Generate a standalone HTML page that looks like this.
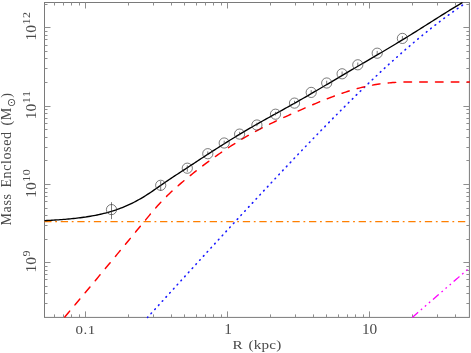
<!DOCTYPE html>
<html><head><meta charset="utf-8"><title>Mass Enclosed vs R</title>
<style>
html,body{margin:0;padding:0;background:#fff;}
body{width:471px;height:353px;overflow:hidden;font-family:"Liberation Serif",serif;}
svg{display:block;font-family:"Liberation Serif",serif;}
</style></head><body>
<svg width="471" height="353" viewBox="0 0 471 353">
<rect width="471" height="353" fill="#fff"/>
<!-- frame + ticks -->
<g fill="none" stroke="#7a7a7a" stroke-width="1">
<rect x="44.5" y="2.5" width="424.90" height="314.90"/>
<path d="M54.5,317.40v-3.0M54.5,2.50v3.0M63.5,317.40v-3.0M63.5,2.50v3.0M71.5,317.40v-3.0M71.5,2.50v3.0M79.5,317.40v-3.0M79.5,2.50v3.0M85.5,317.40v-6.0M85.5,2.50v6.0M128.5,317.40v-3.0M128.5,2.50v3.0M153.5,317.40v-3.0M153.5,2.50v3.0M171.5,317.40v-3.0M171.5,2.50v3.0M184.5,317.40v-3.0M184.5,2.50v3.0M196.5,317.40v-3.0M196.5,2.50v3.0M205.5,317.40v-3.0M205.5,2.50v3.0M213.5,317.40v-3.0M213.5,2.50v3.0M221.5,317.40v-3.0M221.5,2.50v3.0M227.5,317.40v-6.0M227.5,2.50v6.0M270.5,317.40v-3.0M270.5,2.50v3.0M295.5,317.40v-3.0M295.5,2.50v3.0M313.5,317.40v-3.0M313.5,2.50v3.0M326.5,317.40v-3.0M326.5,2.50v3.0M338.5,317.40v-3.0M338.5,2.50v3.0M347.5,317.40v-3.0M347.5,2.50v3.0M355.5,317.40v-3.0M355.5,2.50v3.0M363.5,317.40v-3.0M363.5,2.50v3.0M369.5,317.40v-6.0M369.5,2.50v6.0M412.5,317.40v-3.0M412.5,2.50v3.0M437.5,317.40v-3.0M437.5,2.50v3.0M455.5,317.40v-3.0M455.5,2.50v3.0M44.50,303.5h3.0M469.40,303.5h-3.0M44.50,293.5h3.0M469.40,293.5h-3.0M44.50,286.5h3.0M469.40,286.5h-3.0M44.50,279.5h3.0M469.40,279.5h-3.0M44.50,274.5h3.0M469.40,274.5h-3.0M44.50,270.5h3.0M469.40,270.5h-3.0M44.50,266.5h3.0M469.40,266.5h-3.0M44.50,262.5h6.0M469.40,262.5h-6.0M44.50,239.5h3.0M469.40,239.5h-3.0M44.50,225.5h3.0M469.40,225.5h-3.0M44.50,215.5h3.0M469.40,215.5h-3.0M44.50,208.5h3.0M469.40,208.5h-3.0M44.50,201.5h3.0M469.40,201.5h-3.0M44.50,196.5h3.0M469.40,196.5h-3.0M44.50,192.5h3.0M469.40,192.5h-3.0M44.50,188.5h3.0M469.40,188.5h-3.0M44.50,184.5h6.0M469.40,184.5h-6.0M44.50,160.5h3.0M469.40,160.5h-3.0M44.50,147.5h3.0M469.40,147.5h-3.0M44.50,137.5h3.0M469.40,137.5h-3.0M44.50,129.5h3.0M469.40,129.5h-3.0M44.50,123.5h3.0M469.40,123.5h-3.0M44.50,118.5h3.0M469.40,118.5h-3.0M44.50,113.5h3.0M469.40,113.5h-3.0M44.50,109.5h3.0M469.40,109.5h-3.0M44.50,106.5h6.0M469.40,106.5h-6.0M44.50,82.5h3.0M469.40,82.5h-3.0M44.50,68.5h3.0M469.40,68.5h-3.0M44.50,58.5h3.0M469.40,58.5h-3.0M44.50,51.5h3.0M469.40,51.5h-3.0M44.50,45.5h3.0M469.40,45.5h-3.0M44.50,39.5h3.0M469.40,39.5h-3.0M44.50,35.5h3.0M469.40,35.5h-3.0M44.50,31.5h3.0M469.40,31.5h-3.0M44.50,27.5h6.0M469.40,27.5h-6.0M44.50,4.5h3.0M469.40,4.5h-3.0" stroke-width="1" stroke="#8e8e8e"/>
</g>
<!-- model curves -->
<g fill="none" stroke-linejoin="round">
<path d="M44.5,221.6H465.8" stroke="#ff7f00" stroke-width="1.2" stroke-dasharray="7.3 3.7 1.8 3.75" stroke-dashoffset="0.3"/>
<path d="M412.28,317.40 L412.86,316.90 L414.54,315.45 L416.22,313.99 L417.90,312.54 L419.58,311.08 L421.25,309.63 L422.93,308.18 L424.61,306.72 L426.29,305.27 L427.97,303.81 L429.65,302.36 L431.33,300.90 L433.01,299.45 L434.69,297.99 L436.37,296.54 L438.05,295.08 L439.73,293.63 L441.41,292.17 L443.09,290.72 L444.77,289.26 L446.45,287.81 L448.13,286.35 L449.81,284.90 L451.49,283.44 L453.17,281.99 L454.85,280.53 L456.53,279.08 L458.20,277.62 L459.88,276.17 L461.56,274.72 L463.24,273.26 L464.92,271.81 L466.60,270.35 L468.28,268.90 L469.40,267.93" stroke="#ff00ff" stroke-width="1.3" stroke-dasharray="7.7 3.6 1.75 3.6 1.75 3.6 1.75 3.6"/>
<path d="M147.55,317.40 L149.17,315.62 L150.85,313.77 L152.53,311.93 L154.21,310.08 L155.89,308.24 L157.57,306.39 L159.25,304.55 L160.93,302.70 L162.61,300.86 L164.29,299.02 L165.97,297.17 L167.64,295.33 L169.32,293.49 L171.00,291.65 L172.68,289.80 L174.36,287.96 L176.04,286.12 L177.72,284.28 L179.40,282.44 L181.08,280.60 L182.76,278.76 L184.44,276.92 L186.12,275.08 L187.80,273.24 L189.48,271.41 L191.16,269.57 L192.84,267.73 L194.52,265.89 L196.20,264.06 L197.88,262.22 L199.56,260.39 L201.24,258.55 L202.92,256.72 L204.59,254.88 L206.27,253.05 L207.95,251.22 L209.63,249.39 L211.31,247.56 L212.99,245.73 L214.67,243.90 L216.35,242.07 L218.03,240.24 L219.71,238.41 L221.39,236.58 L223.07,234.76 L224.75,232.93 L226.43,231.11 L228.11,229.28 L229.79,227.46 L231.47,225.64 L233.15,223.82 L234.83,222.00 L236.51,220.18 L238.19,218.36 L239.86,216.54 L241.54,214.72 L243.22,212.91 L244.90,211.09 L246.58,209.28 L248.26,207.47 L249.94,205.65 L251.62,203.84 L253.30,202.03 L254.98,200.23 L256.66,198.42 L258.34,196.62 L260.02,194.81 L261.70,193.01 L263.38,191.21 L265.06,189.41 L266.74,187.61 L268.42,185.81 L270.10,184.02 L271.78,182.22 L273.46,180.43 L275.14,178.64 L276.81,176.85 L278.49,175.06 L280.17,173.28 L281.85,171.49 L283.53,169.71 L285.21,167.93 L286.89,166.15 L288.57,164.38 L290.25,162.60 L291.93,160.83 L293.61,159.06 L295.29,157.30 L296.97,155.53 L298.65,153.77 L300.33,152.01 L302.01,150.25 L303.69,148.49 L305.37,146.74 L307.05,144.99 L308.73,143.24 L310.41,141.50 L312.08,139.75 L313.76,138.01 L315.44,136.28 L317.12,134.54 L318.80,132.81 L320.48,131.08 L322.16,129.36 L323.84,127.64 L325.52,125.92 L327.20,124.21 L328.88,122.49 L330.56,120.79 L332.24,119.08 L333.92,117.38 L335.60,115.69 L337.28,113.99 L338.96,112.31 L340.64,110.62 L342.32,108.94 L344.00,107.26 L345.68,105.59 L347.36,103.92 L349.03,102.26 L350.71,100.60 L352.39,98.95 L354.07,97.30 L355.75,95.65 L357.43,94.01 L359.11,92.38 L360.79,90.75 L362.47,89.12 L364.15,87.50 L365.83,85.89 L367.51,84.28 L369.19,82.68 L370.87,81.08 L372.55,79.49 L374.23,77.90 L375.91,76.32 L377.59,74.75 L379.27,73.18 L380.95,71.62 L382.63,70.06 L384.31,68.51 L385.98,66.97 L387.66,65.44 L389.34,63.91 L391.02,62.39 L392.70,60.87 L394.38,59.36 L396.06,57.86 L397.74,56.37 L399.42,54.88 L401.10,53.40 L402.78,51.93 L404.46,50.47 L406.14,49.01 L407.82,47.56 L409.50,46.12 L411.18,44.69 L412.86,43.26 L414.54,41.85 L416.22,40.44 L417.90,39.04 L419.58,37.65 L421.25,36.27 L422.93,34.89 L424.61,33.52 L426.29,32.17 L427.97,30.82 L429.65,29.48 L431.33,28.15 L433.01,26.83 L434.69,25.51 L436.37,24.21 L438.05,22.92 L439.73,21.63 L441.41,20.36 L443.09,19.09 L444.77,17.83 L446.45,16.58 L448.13,15.35 L449.81,14.12 L451.49,12.90 L453.17,11.69 L454.85,10.49 L456.53,9.30 L458.20,8.12 L459.88,6.95 L461.56,5.79 L463.24,4.63 L464.92,3.49 L466.39,2.50" stroke="#1a1aff" stroke-width="1.6" stroke-linecap="round" stroke-dasharray="0.7 4.85" stroke-dashoffset="0.35"/>
<path d="M64.40,317.40 L65.19,316.46 L66.87,314.47 L68.55,312.49 L70.23,310.49 L71.91,308.50 L73.59,306.51 L75.27,304.51 L76.95,302.51 L78.63,300.51 L80.31,298.51 L81.99,296.51 L83.67,294.50 L85.35,292.50 L87.03,290.49 L88.71,288.48 L90.39,286.47 L92.07,284.46 L93.75,282.45 L95.42,280.43 L97.10,278.42 L98.78,276.40 L100.46,274.38 L102.14,272.36 L103.82,270.35 L105.50,268.32 L107.18,266.30 L108.86,264.28 L110.54,262.26 L112.22,260.23 L113.90,258.21 L115.58,256.18 L117.26,254.16 L118.94,252.13 L120.62,250.10 L122.30,248.07 L123.98,246.05 L125.66,244.02 L127.34,241.99 L129.02,239.96 L130.69,237.93 L132.37,235.89 L134.05,233.86 L135.73,231.83 L137.41,229.80 L139.09,227.77 L140.77,225.73 L142.45,223.70 L144.13,221.67 L145.81,219.64 L147.49,217.61 L149.17,215.59 L150.85,213.59 L152.53,211.61 L154.21,209.65 L155.89,207.71 L157.57,205.81 L159.25,203.95 L160.93,202.13 L162.61,200.36 L164.29,198.62 L165.97,196.93 L167.64,195.28 L169.32,193.67 L171.00,192.09 L172.68,190.53 L174.36,189.01 L176.04,187.52 L177.72,186.05 L179.40,184.60 L181.08,183.16 L182.76,181.75 L184.44,180.35 L186.12,178.96 L187.80,177.58 L189.48,176.21 L191.16,174.85 L192.84,173.51 L194.52,172.17 L196.20,170.85 L197.88,169.54 L199.56,168.24 L201.24,166.95 L202.92,165.67 L204.59,164.40 L206.27,163.15 L207.95,161.90 L209.63,160.67 L211.31,159.44 L212.99,158.23 L214.67,157.03 L216.35,155.85 L218.03,154.67 L219.71,153.50 L221.39,152.35 L223.07,151.21 L224.75,150.08 L226.43,148.96 L228.11,147.85 L229.79,146.75 L231.47,145.67 L233.15,144.60 L234.83,143.54 L236.51,142.49 L238.19,141.45 L239.86,140.42 L241.54,139.41 L243.22,138.41 L244.90,137.42 L246.58,136.44 L248.26,135.47 L249.94,134.51 L251.62,133.57 L253.30,132.64 L254.98,131.72 L256.66,130.81 L258.34,129.92 L260.02,129.03 L261.70,128.16 L263.38,127.29 L265.06,126.44 L266.74,125.59 L268.42,124.76 L270.10,123.93 L271.78,123.11 L273.46,122.30 L275.14,121.50 L276.81,120.70 L278.49,119.91 L280.17,119.13 L281.85,118.35 L283.53,117.58 L285.21,116.81 L286.89,116.05 L288.57,115.29 L290.25,114.53 L291.93,113.78 L293.61,113.03 L295.29,112.28 L296.97,111.54 L298.65,110.80 L300.33,110.06 L302.01,109.32 L303.69,108.59 L305.37,107.86 L307.05,107.13 L308.73,106.41 L310.41,105.69 L312.08,104.97 L313.76,104.26 L315.44,103.56 L317.12,102.86 L318.80,102.16 L320.48,101.47 L322.16,100.79 L323.84,100.12 L325.52,99.45 L327.20,98.79 L328.88,98.13 L330.56,97.49 L332.24,96.85 L333.92,96.22 L335.60,95.60 L337.28,94.99 L338.96,94.39 L340.64,93.79 L342.32,93.22 L344.00,92.65 L345.68,92.09 L347.36,91.54 L349.03,91.01 L350.71,90.49 L352.39,89.98 L354.07,89.49 L355.75,89.01 L357.43,88.55 L359.11,88.10 L360.79,87.66 L362.47,87.25 L364.15,86.84 L365.83,86.46 L367.51,86.09 L369.19,85.74 L370.87,85.41 L372.55,85.09 L374.23,84.80 L375.91,84.52 L377.59,84.25 L379.27,84.01 L380.95,83.78 L382.63,83.56 L384.31,83.36 L385.98,83.18 L387.66,83.01 L389.34,82.85 L391.02,82.71 L392.70,82.58 L394.38,82.46 L396.06,82.35 L397.74,82.27 L399.42,82.20 L401.10,82.15 L402.78,82.11 L404.46,82.09 L406.14,82.06 L407.82,82.05 L409.50,82.04 L411.18,82.03 L412.86,82.02 L414.54,82.02 L416.22,82.01 L417.90,82.01 L419.58,82.01 L421.25,82.01 L422.93,82.00 L424.61,82.00 L426.29,82.00 L427.97,82.00 L429.65,82.00 L431.33,82.00 L433.01,82.00 L434.69,82.00 L436.37,82.00 L438.05,82.00 L439.73,82.00 L441.41,82.00 L443.09,82.00 L444.77,82.00 L446.45,82.00 L448.13,82.00 L449.81,82.00 L451.49,82.00 L453.17,82.00 L454.85,82.00 L456.53,82.00 L458.20,82.00 L459.88,82.00 L461.56,82.00 L463.24,82.00 L464.92,82.00 L466.60,82.00 L468.28,82.00 L469.40,82.00" stroke="#ff0000" stroke-width="1.45" stroke-linecap="round" stroke-dasharray="7.6 8.18" stroke-dashoffset="-0.6"/>
<path d="M44.50,220.60 L45.04,220.58 L46.72,220.50 L48.40,220.41 L50.08,220.33 L51.76,220.23 L53.44,220.13 L55.12,220.03 L56.80,219.93 L58.47,219.81 L60.15,219.70 L61.83,219.57 L63.51,219.44 L65.19,219.31 L66.87,219.17 L68.55,219.02 L70.23,218.86 L71.91,218.70 L73.59,218.52 L75.27,218.34 L76.95,218.15 L78.63,217.95 L80.31,217.74 L81.99,217.52 L83.67,217.29 L85.35,217.05 L87.03,216.79 L88.71,216.53 L90.39,216.25 L92.07,215.95 L93.75,215.64 L95.42,215.32 L97.10,214.98 L98.78,214.63 L100.46,214.25 L102.14,213.86 L103.82,213.46 L105.50,213.03 L107.18,212.58 L108.86,212.11 L110.54,211.63 L112.22,211.12 L113.90,210.58 L115.58,210.03 L117.26,209.45 L118.94,208.85 L120.62,208.22 L122.30,207.57 L123.98,206.89 L125.66,206.18 L127.34,205.45 L129.02,204.69 L130.69,203.90 L132.37,203.08 L134.05,202.24 L135.73,201.36 L137.41,200.46 L139.09,199.53 L140.77,198.56 L142.45,197.57 L144.13,196.55 L145.81,195.50 L147.49,194.43 L149.17,193.33 L150.85,192.20 L152.53,191.07 L154.21,189.91 L155.89,188.75 L157.57,187.58 L159.25,186.41 L160.93,185.24 L162.61,184.08 L164.29,182.93 L165.97,181.79 L167.64,180.65 L169.32,179.52 L171.00,178.39 L172.68,177.28 L174.36,176.17 L176.04,175.06 L177.72,173.96 L179.40,172.86 L181.08,171.76 L182.76,170.67 L184.44,169.57 L186.12,168.47 L187.80,167.37 L189.48,166.27 L191.16,165.17 L192.84,164.07 L194.52,162.97 L196.20,161.87 L197.88,160.76 L199.56,159.66 L201.24,158.56 L202.92,157.47 L204.59,156.37 L206.27,155.28 L207.95,154.18 L209.63,153.09 L211.31,152.01 L212.99,150.92 L214.67,149.85 L216.35,148.77 L218.03,147.70 L219.71,146.63 L221.39,145.56 L223.07,144.50 L224.75,143.45 L226.43,142.39 L228.11,141.35 L229.79,140.30 L231.47,139.27 L233.15,138.23 L234.83,137.21 L236.51,136.18 L238.19,135.17 L239.86,134.16 L241.54,133.15 L243.22,132.15 L244.90,131.15 L246.58,130.16 L248.26,129.17 L249.94,128.19 L251.62,127.22 L253.30,126.25 L254.98,125.28 L256.66,124.33 L258.34,123.37 L260.02,122.42 L261.70,121.47 L263.38,120.53 L265.06,119.59 L266.74,118.66 L268.42,117.72 L270.10,116.79 L271.78,115.86 L273.46,114.93 L275.14,114.00 L276.81,113.07 L278.49,112.14 L280.17,111.22 L281.85,110.29 L283.53,109.36 L285.21,108.43 L286.89,107.50 L288.57,106.56 L290.25,105.63 L291.93,104.69 L293.61,103.74 L295.29,102.80 L296.97,101.85 L298.65,100.90 L300.33,99.94 L302.01,98.98 L303.69,98.02 L305.37,97.05 L307.05,96.08 L308.73,95.11 L310.41,94.14 L312.08,93.16 L313.76,92.18 L315.44,91.20 L317.12,90.22 L318.80,89.24 L320.48,88.25 L322.16,87.27 L323.84,86.28 L325.52,85.29 L327.20,84.30 L328.88,83.31 L330.56,82.32 L332.24,81.33 L333.92,80.34 L335.60,79.35 L337.28,78.36 L338.96,77.37 L340.64,76.38 L342.32,75.39 L344.00,74.40 L345.68,73.41 L347.36,72.42 L349.03,71.43 L350.71,70.44 L352.39,69.45 L354.07,68.46 L355.75,67.48 L357.43,66.49 L359.11,65.50 L360.79,64.52 L362.47,63.53 L364.15,62.55 L365.83,61.57 L367.51,60.58 L369.19,59.60 L370.87,58.62 L372.55,57.64 L374.23,56.65 L375.91,55.67 L377.59,54.69 L379.27,53.70 L380.95,52.71 L382.63,51.72 L384.31,50.73 L385.98,49.74 L387.66,48.74 L389.34,47.74 L391.02,46.74 L392.70,45.73 L394.38,44.72 L396.06,43.71 L397.74,42.69 L399.42,41.68 L401.10,40.66 L402.78,39.64 L404.46,38.62 L406.14,37.59 L407.82,36.55 L409.50,35.52 L411.18,34.48 L412.86,33.43 L414.54,32.38 L416.22,31.33 L417.90,30.27 L419.58,29.22 L421.25,28.16 L422.93,27.09 L424.61,26.03 L426.29,24.97 L427.97,23.90 L429.65,22.84 L431.33,21.77 L433.01,20.71 L434.69,19.65 L436.37,18.59 L438.05,17.53 L439.73,16.47 L441.41,15.41 L443.09,14.36 L444.77,13.31 L446.45,12.27 L448.13,11.23 L449.81,10.19 L451.49,9.16 L453.17,8.13 L454.85,7.10 L456.53,6.09 L458.20,5.07 L459.88,4.06 L461.56,3.06 L462.48,2.50" stroke="#000" stroke-width="1.35"/>
</g>
<!-- data -->
<g fill="none" stroke="#333" stroke-width="0.65"><circle cx="111.5" cy="209.6" r="5.1"/><path d="M111.5,202.2V219.2"/><circle cx="160.7" cy="185.3" r="5.1"/><path d="M160.7,181.1V190.8"/><circle cx="187.3" cy="168.2" r="5.1"/><path d="M187.3,165.3V171.8"/><circle cx="207.8" cy="153.7" r="5.1"/><path d="M207.8,151.39999999999998V154.89999999999998"/><circle cx="224.2" cy="143.0" r="5.1"/><path d="M224.2,140.7V144.2"/><circle cx="239.6" cy="134.1" r="5.1"/><path d="M239.6,131.79999999999998V135.29999999999998"/><circle cx="256.9" cy="125.0" r="5.1"/><path d="M256.9,122.7V126.2"/><circle cx="275.5" cy="114.2" r="5.1"/><path d="M275.5,111.9V115.4"/><circle cx="294.5" cy="103.1" r="5.1"/><path d="M294.5,100.8V104.3"/><circle cx="311.2" cy="92.4" r="5.1"/><path d="M311.2,90.10000000000001V93.60000000000001"/><circle cx="326.7" cy="83.0" r="5.1"/><path d="M326.7,80.7V84.2"/><circle cx="342.1" cy="73.8" r="5.1"/><path d="M342.1,71.5V75.0"/><circle cx="357.8" cy="64.8" r="5.1"/><path d="M357.8,62.5V66.0"/><circle cx="377.2" cy="53.2" r="5.1"/><path d="M377.2,50.900000000000006V54.400000000000006"/><circle cx="402.4" cy="38.4" r="5.1"/><path d="M402.4,36.1V39.6"/></g>
<!-- labels -->
<g fill="#4a4a4a" font-size="13" style="opacity:0.999">
<text transform="translate(85.6,333.5) scale(1.15,1.04)" text-anchor="middle" letter-spacing="0.5">0.1</text>
<text transform="translate(228.0,333.5) scale(1.18,1.04)" text-anchor="middle">1</text>
<text transform="translate(369.6,333.5) scale(1.18,1.04)" text-anchor="middle">10</text>
<text transform="translate(35.9,26.1) rotate(-90) scale(1.2,1.05)" text-anchor="middle" font-size="13">10<tspan font-size="10" dy="-5.8" dx="0.4" letter-spacing="0.4">12</tspan></text><text transform="translate(35.9,104.9) rotate(-90) scale(1.2,1.05)" text-anchor="middle" font-size="13">10<tspan font-size="10" dy="-5.8" dx="0.4" letter-spacing="0.4">11</tspan></text><text transform="translate(35.9,183.2) rotate(-90) scale(1.2,1.05)" text-anchor="middle" font-size="13">10<tspan font-size="10" dy="-5.8" dx="0.4" letter-spacing="0.4">10</tspan></text><text transform="translate(35.9,261.3) rotate(-90) scale(1.2,1.05)" text-anchor="middle" font-size="13">10<tspan font-size="10" dy="-5.8" dx="0.4" letter-spacing="0.4">9</tspan></text>
<text transform="translate(257,349.3) scale(1.17,1.04)" text-anchor="middle" letter-spacing="0.15" word-spacing="1.3">R (kpc)</text>
<text transform="translate(11.3,159.0) rotate(-90) scale(1.08,1.12)" text-anchor="middle" letter-spacing="0.55" word-spacing="1.6">Mass Enclosed (M<tspan font-size="10" dy="3.2">&#x2299;</tspan><tspan dy="-3.2">)</tspan></text>
</g>
</svg>
</body></html>
